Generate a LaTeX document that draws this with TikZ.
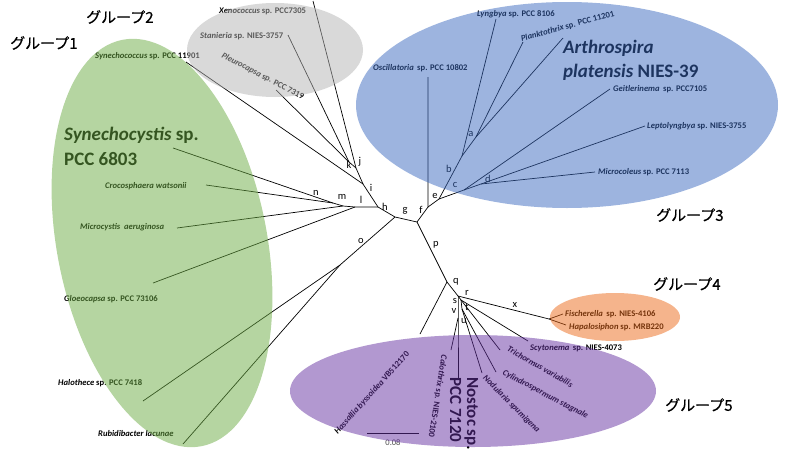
\documentclass[tikz,border=0pt]{standalone}
\usepackage{fontspec}
\setmainfont{Carlito}
\newfontfamily\jpfont[FakeBold=0.6]{Noto Sans CJK JP}
\definecolor{gbase}{RGB}{107,171,67}
\definecolor{ybase}{RGB}{179,179,179}
\definecolor{bbase}{RGB}{59,105,191}
\definecolor{obase}{RGB}{235,105,25}
\definecolor{pbase}{RGB}{101,49,161}
\begin{document}
\begin{tikzpicture}[x=1pt,y=-1pt,
  br/.style={line width=0.7pt, black},
  sp/.style={inner sep=0pt, anchor=base west, font=\fontsize{8.6}{10}\selectfont\bfseries},
  rsp/.style={inner sep=0pt, anchor=west, font=\fontsize{8.6}{10}\selectfont\bfseries},
  lt/.style={inner sep=0pt, font=\fontsize{10.5}{12}\selectfont},
  big/.style={inner sep=0pt, font=\fontsize{19}{22}\selectfont\bfseries, anchor=base west},
  mid/.style={inner sep=0pt, font=\fontsize{17}{20}\selectfont\bfseries, anchor=base west, rotate=-90},
  grp/.style={inner sep=0pt, font=\jpfont\fontsize{15}{18}\selectfont, anchor=west},
  ov/.style={fill opacity=0.5}]
\useasboundingbox (0,0) rectangle (800,450);

% junctions and leaf ends
\coordinate (R) at (417,222);
\coordinate (F) at (428,207);
\coordinate (Osc) at (428,77);
\coordinate (E) at (439,199);
\coordinate (B) at (462,156);
\coordinate (Lyn) at (496,19);
\coordinate (A) at (476,137);
\coordinate (Plk) at (523,42);
\coordinate (Art) at (563,38);
\coordinate (C) at (464,190);
\coordinate (Gei) at (610,89);
\coordinate (D) at (481,184);
\coordinate (Lep) at (645,126);
\coordinate (Mic) at (595,172);
\coordinate (G) at (395,217);
\coordinate (H) at (378,207);
\coordinate (I) at (363,184);
\coordinate (J) at (356,168);
\coordinate (K) at (349,162);
\coordinate (Xen) at (313,1);
\coordinate (Sta) at (288,35);
\coordinate (Ple) at (276,90);
\coordinate (S11) at (186,62);
\coordinate (L) at (355,207);
\coordinate (M) at (343,206);
\coordinate (N) at (333,203);
\coordinate (Syn) at (173,148);
\coordinate (Cro) at (206,185);
\coordinate (Mcy) at (177,228);
\coordinate (Glo) at (153,283);
\coordinate (O) at (340,265);
\coordinate (Hal) at (143,401);
\coordinate (Rub) at (183,444);
\coordinate (Q) at (447,282);
\coordinate (Has) at (420,334);
\coordinate (R2) at (458,296);
\coordinate (X) at (549,319);
\coordinate (Fis) at (563,314);
\coordinate (Hap) at (566,325);
\coordinate (T) at (461,300);
\coordinate (Scy) at (528,341);
\coordinate (Tri) at (500,350);
\coordinate (U) at (462,309);
\coordinate (Nod) at (482,373);
\coordinate (Cyl) at (496,372);
\coordinate (V) at (458,318);
\coordinate (Nos) at (458,378);
\coordinate (Cal) at (451,350);
\coordinate (SB1) at (367,433);
\coordinate (SB2) at (419,433);

% branches
\draw[br] (R) -- (F) -- (Osc);
\draw[br] (F) -- (E) -- (B) -- (Lyn);
\draw[br] (B) -- (A) -- (Plk);
\draw[br] (A) -- (Art);
\draw[br] (E) -- (C) -- (Gei);
\draw[br] (C) -- (D) -- (Lep);
\draw[br] (D) -- (Mic);
\draw[br] (R) -- (G) -- (H) -- (I) -- (S11);
\draw[br] (I) -- (J) -- (Xen);
\draw[br] (J) -- (K) -- (Sta);
\draw[br] (K) -- (Ple);
\draw[br] (H) -- (L) -- (Glo);
\draw[br] (L) -- (M) -- (Mcy);
\draw[br] (M) -- (N) -- (Syn);
\draw[br] (N) -- (Cro);
\draw[br] (G) -- (O) -- (Hal);
\draw[br] (O) -- (Rub);
\draw[br] (R) -- (Q) -- (Has);
\draw[br] (Q) -- (R2) -- (X) -- (Fis);
\draw[br] (X) -- (Hap);
\draw[br] (R2) -- (T) -- (Scy);
\draw[br] (T) -- (Tri);
\draw[br] (T) -- (U) -- (Nod);
\draw[br] (U) -- (Cyl);
\draw[br] (R2) -- (V) -- (Nos);
\draw[br] (V) -- (Cal);
\draw[br] (SB1) -- (SB2);
\node[inner sep=0pt, text=black!70, font=\fontsize{8.5}{9}\selectfont] (sbl) at (393,443) {0.08};

% branch letters
\node[lt] (la) at (471,134) {a};
\node[lt] (lb) at (449,169) {b};
\node[lt] (lc) at (455,185) {c};
\node[lt] (ld) at (488,179) {d};
\node[lt] (le) at (435,196) {e};
\node[lt] (lf) at (421,210) {f};
\node[lt] (lg) at (405,211) {g};
\node[lt] (lh) at (385,207) {h};
\node[lt] (li) at (371,188) {i};
\node[lt] (lj) at (360,162) {j};
\node[lt] (lk) at (349,165) {k};
\node[lt] (ll) at (361,200) {l};
\node[lt] (lm) at (342,197) {m};
\node[lt] (ln) at (316,193) {n};
\node[lt] (lo) at (361,241) {o};
\node[lt] (lp) at (436,245) {p};
\node[lt] (lq) at (456,282) {q};
\node[lt] (lr) at (467,293) {r};
\node[lt] (ls) at (455,301) {s};
\node[lt] (ltt) at (467,307) {t};
\node[lt] (lv) at (454,311) {v};
\node[lt] (lu) at (464,321) {u};
\node[lt] (lx) at (515,305) {x};

% species labels
\node[sp] (t11901) at (95,58) {\textit{Synechococcus} sp. PCC 11901};
\node[sp] (txen) at (219,13) {\textit{Xenococcus} sp. PCC7305};
\node[sp] (tsta) at (200,38) {\textit{Stanieria} sp. NIES-3757};
\node[rsp, rotate=-27.5] (tple) at (222,55) {\textit{Pleurocapsa} sp. PCC 7319};
\node[sp] (tosc) at (373,70) {\textit{Oscillatoria}\, sp. PCC 10802};
\node[sp] (tlyn) at (477,16) {\textit{Lyngbya} sp. PCC 8106};
\node[rsp, rotate=15] (tplk) at (521,39) {\textit{Planktothrix} sp. PCC 11201};
\node[big] (tart1) at (563,53) {\textit{Arthrospira}};
\node[big] (tart2) at (563,77) {\textit{platensis} NIES-39};
\node[sp] (tgei) at (613,91) {\textit{Geitlerinema}\, sp. PCC7105};
\node[sp] (tlep) at (647,128) {\textit{Leptolyngbya} sp. NIES-3755};
\node[sp] (tmic) at (598,174) {\textit{Microcoleus} sp. PCC 7113};
\node[big] (tsyn1) at (64,140) {\textit{Synechocystis} sp.};
\node[big] (tsyn2) at (64,165) {PCC 6803};
\node[sp] (tcro) at (105,188) {\textit{Crocosphaera watsonii}};
\node[sp] (tmcy) at (80,229) {\textit{Microcystis\ \ aeruginosa}};
\node[sp] (tglo) at (64,301) {\textit{Gloeocapsa} sp. PCC 73106};
\node[sp] (thal) at (58,385) {\textit{Halothece} sp. PCC 7418};
\node[sp] (trub) at (98,436) {\textit{Rubidibacter lacunae}};
\node[rsp, rotate=48] (thas) at (336,433) {\textit{Hassallia\ byssoidea} VB512170};
\node[rsp, rotate=-99] (tcal) at (444,355) {\textit{Calothrix} sp. NIES-2100};
\node[mid] (tnos1) at (467,377) {Nostoc sp.};
\node[mid] (tnos2) at (450,377) {PCC 7120};
\node[rsp, rotate=-45] (tnod) at (484,377) {\textit{Nodularia spumigena}};
\node[rsp, rotate=-28] (tcyl) at (503,372) {\textit{Cylindrospermum stagnale}};
\node[rsp, rotate=-30] (ttri) at (508,348) {\textit{Trichormus variabilis}};
\node[sp] (tscy) at (530,350) {\textit{Scytonema}\, sp. NIES-4073};
\node[sp] (tfis) at (565,316) {\textit{Fischerella}\, sp. NIES-4106};
\node[sp] (thap) at (569,329) {\textit{Hapalosiphon} sp. MRB220};

% group overlays
\begin{scope}[shift={(162,243)}, rotate=11]
  \fill[gbase, ov] (0,0) ellipse [x radius=105pt, y radius=207pt];
\end{scope}
\fill[ybase, ov] (275,50) ellipse [x radius=88pt, y radius=47pt];
\fill[bbase, ov] (567,105) ellipse [x radius=211pt, y radius=103pt];
\fill[obase, ov] (615,317) ellipse [x radius=65pt, y radius=24pt];
\fill[pbase, ov] (473,391) ellipse [x radius=183pt, y radius=56pt];

% group titles
\node[grp] (g1) at (10,43) {グループ1};
\node[grp] (g2) at (86,17) {グループ2};
\node[grp] (g3) at (656,215) {グループ3};
\node[grp] (g4) at (653,284) {グループ4};
\node[grp] (g5) at (665,405) {グループ5};
\end{tikzpicture}
\end{document}
